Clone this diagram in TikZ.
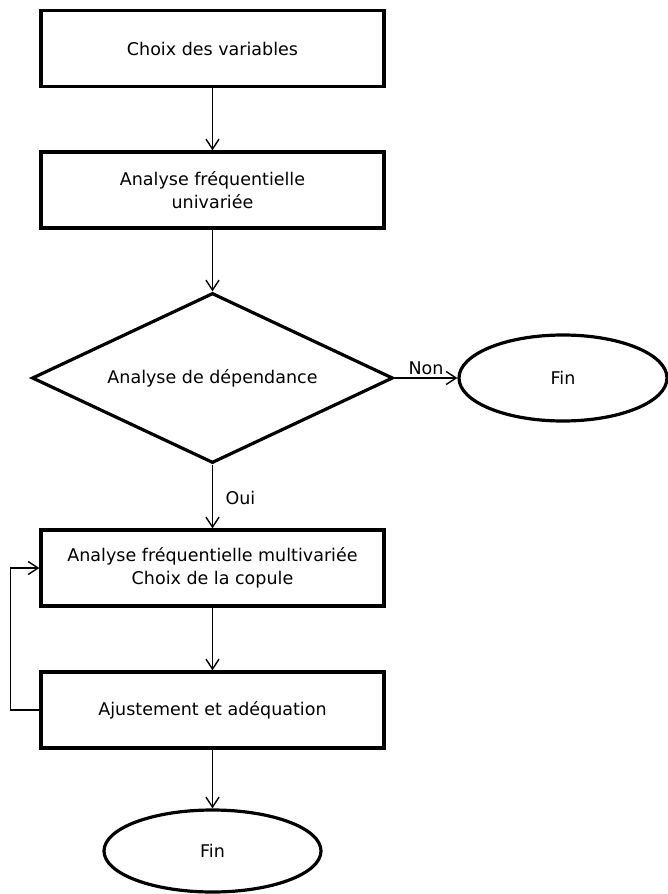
\documentclass[tikz,border=0pt]{standalone}
\usepackage{fontspec}
\setmainfont{DejaVu Sans}
\usetikzlibrary{positioning}
\usetikzlibrary{shapes.geometric}
\usetikzlibrary{arrows.meta}
\tikzset{
    % Open barbed arrow heads, as in the original chart
    >={Straight Barb[length=10pt, width=13pt]},
%
    % Shapes of the chart
    stepbox/.style={draw, line width=3.2pt, rectangle,
        minimum width=343pt, minimum height=76pt},
    test/.style={draw, line width=3.2pt, diamond, inner sep=0,
        aspect=2.12, minimum width=361pt, minimum height=170pt},
    finish/.style={draw, line width=3.2pt, ellipse, inner sep=0},
    % Connecting lines
    flow/.style={line width=1.4pt, ->},
%
    % Text is always centred
    every node/.style={align=center, font=\fontsize{17.5}{23}\selectfont},
}

\begin{document}
\begin{tikzpicture}[x=1pt, y=-1pt]
\useasboundingbox (0,0) rectangle (667,894);

\path
    (212.5,48.5) node (choice) [stepbox] {Choix des variables}
    (212.5,190) node (uni) [stepbox] {Analyse fréquentielle\\univariée}
    (212.5,378) node (dep) [test] {Analyse de dépendance}
    (563,378) node (endA) [finish, minimum width=208pt, minimum height=86pt] {Fin}
    (212.5,568) node (multi) [stepbox]
        {Analyse fréquentielle multivariée\\Choix de la copule}
    (212.5,710) node (fit) [stepbox] {Ajustement et adéquation}
    (212.5,851) node (endB) [finish, minimum width=217pt, minimum height=82pt] {Fin};

\draw [flow] (choice) -- (uni);
\draw [flow] (uni) -- (dep);
\draw [flow] (dep) -- node [above, yshift=-1pt] {Non} (endA);
\draw [flow] (dep) -- node [right, xshift=9pt, yshift=-1pt] {Oui} (multi);
\draw [flow] (multi) -- (fit);
\draw [flow] (fit) -- (endB);
% back to the copula choice
\draw [flow] (fit.west) -- ++(-29,0) |- (multi.west);

\end{tikzpicture}
\end{document}
